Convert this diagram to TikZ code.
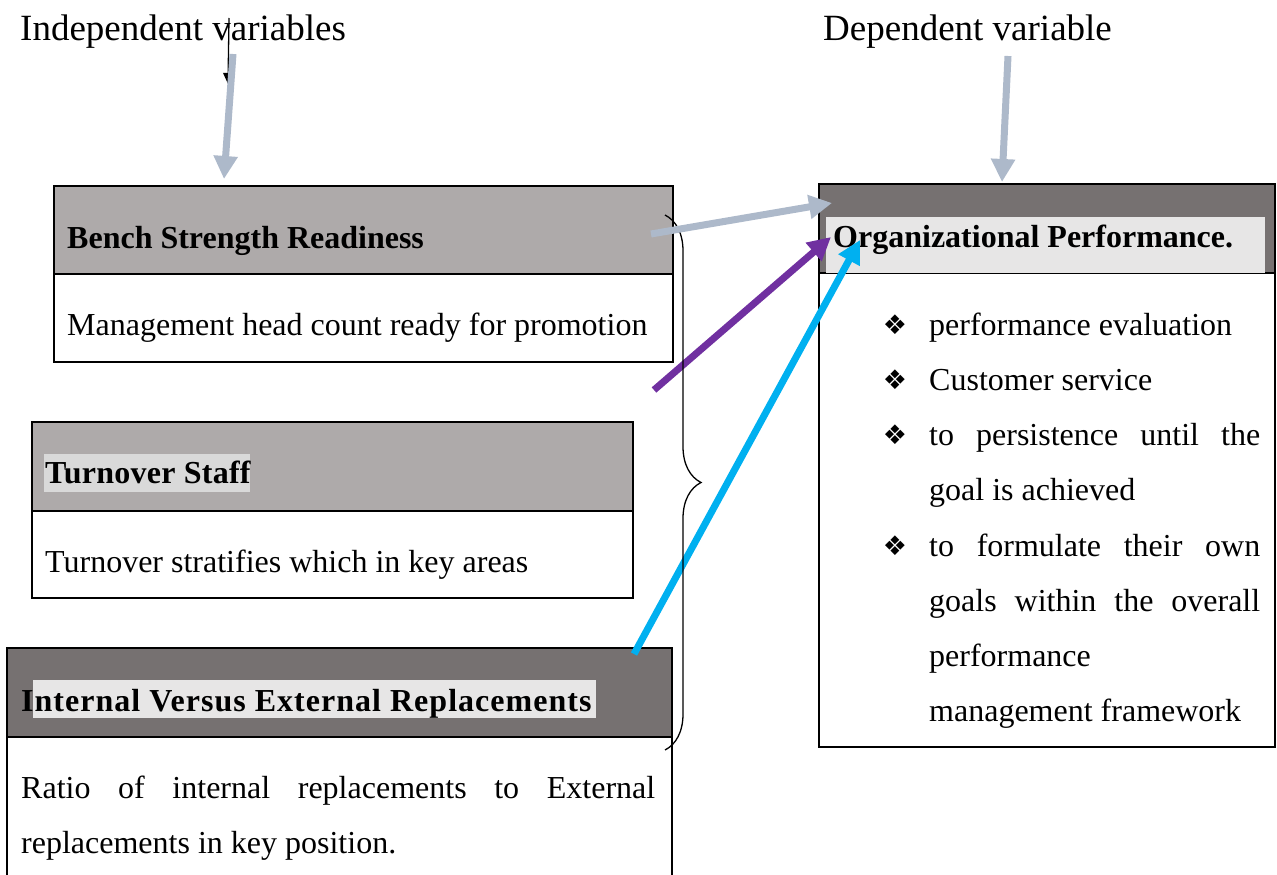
\documentclass[tikz,border=0pt]{standalone}
\usepackage{fontspec}
\setmainfont{Liberation Serif}
\newfontfamily\symbolfont{DejaVu Sans}
\usetikzlibrary{arrows.meta,decorations.pathreplacing}

\definecolor{headlight}{HTML}{AEAAAA}
\definecolor{headdark}{HTML}{767171}
\definecolor{marklight}{HTML}{D9D9D9}
\definecolor{markpale}{HTML}{E7E6E6}
\definecolor{steelarrow}{HTML}{ADB9CA}
\definecolor{purplearrow}{HTML}{7030A0}
\definecolor{cyanarrow}{HTML}{00B0F0}

\begin{document}
\begin{tikzpicture}[x=1pt,y=-1pt,
  panel/.style={draw=black,line width=2pt,anchor=north west,inner sep=0pt,outer sep=0pt},
  hilite/.style={anchor=north west,inner sep=0pt,outer sep=0pt},
  txt/.style={anchor=base west,inner sep=0pt,font=\fontsize{32}{38}\selectfont},
  headtxt/.style={anchor=base west,inner sep=0pt,font=\fontsize{32}{38}\selectfont\bfseries},
  titletxt/.style={anchor=base west,inner sep=0pt,font=\fontsize{37}{44}\selectfont},
  bulletmark/.style={anchor=center,inner sep=0pt,font=\symbolfont\fontsize{27}{30}\selectfont},
  fat/.style={line width=7pt,-{Triangle[length=23pt,width=23pt]}},
  smallarrow/.style={line width=1.3pt,-{Triangle[length=11pt,width=10pt]}},
  bracket/.style={line width=1.3pt,decorate,decoration={brace,amplitude=36pt}},
]
\useasboundingbox (0,0) rectangle (1277,875);
\clip (0,0) rectangle (1277,875);

% column titles
\node[titletxt] (indtitle) at (20,41) {Independent variables};
\node[titletxt] (deptitle) at (823,41) {Dependent variable};

% bench strength panel
\node[panel,fill=headlight,minimum width=619pt,minimum height=88pt] (benchhead) at (54,186) {};
\node[panel,minimum width=619pt,minimum height=88pt] (benchbody) at (54,274) {};
\node[headtxt] (benchtitle) at (67,248) {Bench Strength Readiness};
\node[txt] (benchtext) at (67,335) {Management head count ready for promotion};

% turnover panel
\node[panel,fill=headlight,minimum width=601pt,minimum height=89pt] (turnhead) at (32,422) {};
\node[panel,minimum width=601pt,minimum height=87pt] (turnbody) at (32,511) {};
\node[hilite,fill=marklight,minimum width=206pt,minimum height=38pt] (turnmark) at (44,454) {};
\node[headtxt] (turntitle) at (45,483) {\addfontfeatures{LetterSpace=0.8}Turnover Staff};
\node[txt] (turntext) at (45,572) {Turnover stratifies which in key areas};

% replacements panel
\node[panel,fill=headdark,minimum width=665pt,minimum height=89pt] (replhead) at (7,648) {};
\node[panel,minimum width=665pt,minimum height=170pt] (replbody) at (7,737) {};
\node[hilite,fill=markpale,minimum width=563pt,minimum height=38pt] (replmark) at (33,680) {};
\node[headtxt] (repltitle) at (21,711) {\addfontfeatures{LetterSpace=3.2}Internal Versus External Replacements};
\node[txt] (repltexta) at (21,798) {\makebox[634pt][s]{Ratio of internal replacements to External}};
\node[txt] (repltextb) at (21,853) {replacements in key position.};

% organizational performance panel
\node[panel,fill=headdark,minimum width=456pt,minimum height=89pt] (orghead) at (819,184) {};
\node[panel,minimum width=456pt,minimum height=474pt] (orgbody) at (819,273) {};
\node[hilite,fill=markpale,minimum width=439pt,minimum height=56pt] (orgmark) at (826,217) {};
\node[headtxt] (orgtitle) at (833,247) {Organizational Performance.};

\node[bulletmark] (bulla) at (895,325) {❖};
\node[bulletmark] (bullb) at (895,380) {❖};
\node[bulletmark] (bullc) at (895,435) {❖};
\node[bulletmark] (bulld) at (895,546) {❖};
\node[txt] (linea) at (929,335) {performance evaluation};
\node[txt] (lineb) at (929,390) {Customer service};
\node[txt] (linec) at (929,445) {\makebox[331pt][s]{to persistence until the}};
\node[txt] (lined) at (929,500) {goal is achieved};
\node[txt] (linee) at (929,556) {\makebox[331pt][s]{to formulate their own}};
\node[txt] (linef) at (929,611) {\makebox[331pt][s]{goals within the overall}};
\node[txt] (lineg) at (929,666) {performance};
\node[txt] (lineh) at (929,721) {management framework};

% arrow end points
\coordinate (smalltail) at (229,18);
\coordinate (smalltip) at (228,84);
\coordinate (indtail) at (233,54);
\coordinate (indtip) at (224,179);
\coordinate (deptail) at (1008,56);
\coordinate (deptip) at (1002,182);
\coordinate (benchtail) at (651,234);
\coordinate (benchtip) at (832,203);
\coordinate (turntail) at (654,390);
\coordinate (turntip) at (831,237);
\coordinate (repltail) at (634,654);
\coordinate (repltip) at (860,240);
\coordinate (bracetop) at (665,215);
\coordinate (bracebottom) at (665,750);

% arrows and grouping brace
\draw[smallarrow] (smalltail) -- (smalltip);
\draw[fat,steelarrow] (indtail) -- (indtip);
\draw[fat,steelarrow] (deptail) -- (deptip);
\draw[fat,purplearrow] (turntail) -- (turntip);
\draw[fat,cyanarrow] (repltail) -- (repltip);
\draw[bracket] (bracetop) -- (bracebottom);
\draw[fat,steelarrow] (benchtail) -- (benchtip);
\end{tikzpicture}
\end{document}
